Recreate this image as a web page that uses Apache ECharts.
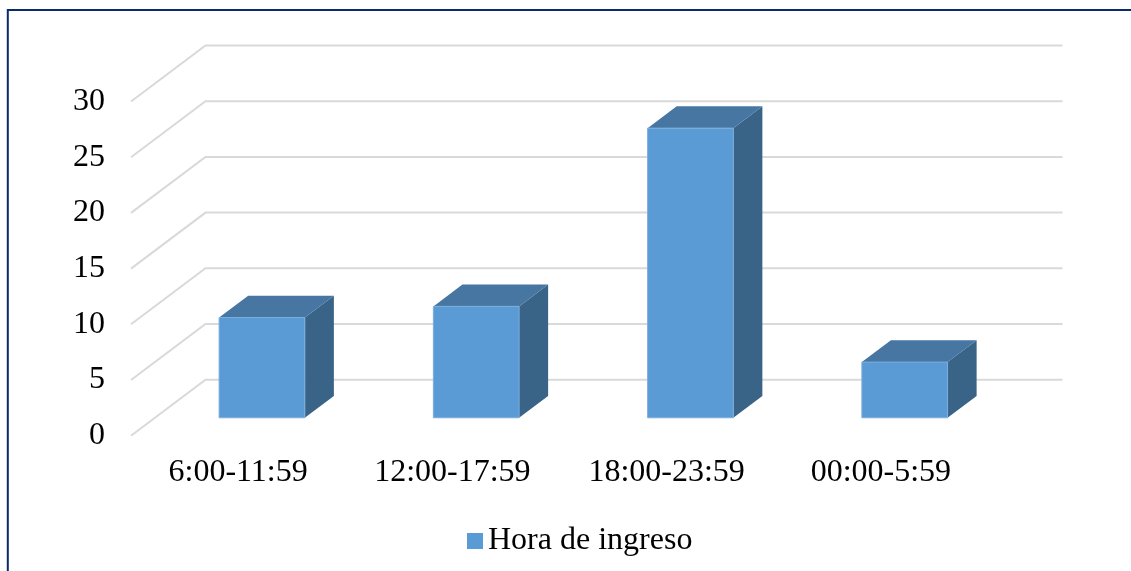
<!DOCTYPE html>
<html>
<head>
<meta charset="utf-8">
<script src="https://cdn.jsdelivr.net/npm/echarts@6/dist/echarts.min.js"></script>
<style>
  html, body { margin: 0; padding: 0; background: #ffffff; }
  #chart { width: 1131px; height: 571px; }
</style>
</head>
<body>
<div id="chart"></div>
<script>
// Time-of-admission bands and counts
const categories = ['6:00-11:59', '12:00-17:59', '18:00-23:59', '00:00-5:59'];
const values = [9, 10, 26, 5];
const seriesName = 'Hora de ingreso';
const yTicks = [0, 5, 10, 15, 20, 25, 30];

// Oblique projection of the depth axis (pixels from the front plane to the back wall)
const DEPTH_X = 74.5;
const DEPTH_Y = -56;
const BAR_FRONT = 0.32;   // fraction of depth where bar front faces sit
const BAR_BACK = 0.71;    // fraction of depth where bar back faces sit
const BAR_RATIO = 0.40;   // bar width as fraction of category band

const FONT = '"Liberation Serif", "Times New Roman", serif';
const COLOR_FRONT = '#5B9BD5';
const COLOR_TOP = '#4676A1';
const COLOR_SIDE = '#3A6388';
const GRID_COLOR = '#D9D9D9';

const chart = echarts.init(document.getElementById('chart'), null, { renderer: 'canvas' });

function renderWall(params, api) {
  const cs = params.coordSys;
  const y = api.coord([0, api.value(1)])[1];
  const x0 = cs.x;
  const x1 = cs.x + cs.width;
  return {
    type: 'polyline',
    shape: {
      points: [
        [x0, y],
        [x0 + DEPTH_X, y + DEPTH_Y],
        [x1 + DEPTH_X, y + DEPTH_Y]
      ]
    },
    style: { stroke: GRID_COLOR, lineWidth: 2, fill: null },
    silent: true
  };
}

function renderBar(params, api) {
  const idx = api.value(0);
  const top = api.coord([idx, api.value(1)]);
  const base = api.coord([idx, 0]);
  const band = api.size([1, 0])[0];
  const w = band * BAR_RATIO;
  const fx = BAR_FRONT * DEPTH_X, fy = BAR_FRONT * DEPTH_Y;
  const bx = BAR_BACK * DEPTH_X, by = BAR_BACK * DEPTH_Y;
  const l = top[0] - w / 2 + fx;
  const r = top[0] + w / 2 + fx;
  const t = top[1] + fy;
  const b = base[1] + fy;
  const ddx = bx - fx, ddy = by - fy;
  return {
    type: 'group',
    children: [
      {
        type: 'polygon',
        shape: { points: [[r, t], [r + ddx, t + ddy], [r + ddx, b + ddy], [r, b]] },
        style: { fill: COLOR_SIDE }
      },
      {
        type: 'polygon',
        shape: { points: [[l, t], [l + ddx, t + ddy], [r + ddx, t + ddy], [r, t]] },
        style: { fill: COLOR_TOP }
      },
      {
        type: 'rect',
        shape: { x: l, y: t, width: r - l, height: b - t },
        style: { fill: COLOR_FRONT, stroke: '#7AAEDD', lineWidth: 1 }
      }
    ]
  };
}

const option = {
  animation: false,
  backgroundColor: '#ffffff',
  graphic: [
    {
      type: 'rect',
      shape: { x: 7.8, y: 10, width: 1300, height: 800 },
      style: { fill: null, stroke: '#0B2A6B', lineWidth: 2 },
      silent: true,
      z: 100
    }
  ],
  grid: { left: 131, width: 857, top: 101.5, bottom: 135.3 },
  legend: {
    data: [seriesName],
    left: 462,
    top: 520,
    icon: 'rect',
    itemWidth: 16,
    itemHeight: 16,
    itemGap: 10,
    textStyle: { fontFamily: FONT, fontSize: 32, color: '#000000' }
  },
  xAxis: {
    type: 'category',
    data: categories,
    axisLine: { show: false },
    axisTick: { show: false },
    splitLine: { show: false },
    axisLabel: { fontFamily: FONT, fontSize: 32, color: '#000000', margin: 21 }
  },
  yAxis: {
    type: 'value',
    min: 0,
    max: 30,
    interval: 5,
    axisLine: { show: false },
    axisTick: { show: false },
    splitLine: { show: false },
    axisLabel: { fontFamily: FONT, fontSize: 32, color: '#000000', margin: 26, padding: [5, 0, 0, 0] }
  },
  series: [
    {
      type: 'custom',
      name: 'wall',
      renderItem: renderWall,
      data: yTicks.map(function (v) { return [0, v]; }),
      z: 1,
      silent: true
    },
    {
      type: 'custom',
      name: seriesName,
      renderItem: renderBar,
      itemStyle: { color: COLOR_FRONT },
      data: values.map(function (v, i) { return [i, v]; }),
      z: 2
    }
  ]
};

chart.setOption(option);
</script>
</body>
</html>
